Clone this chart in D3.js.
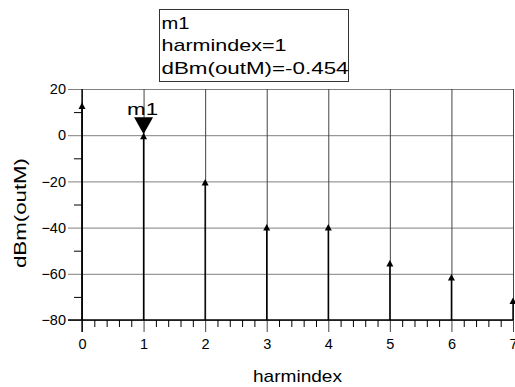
<!DOCTYPE html>
<html>
<head>
<meta charset="utf-8">
<script src="https://cdn.jsdelivr.net/npm/d3@7"></script>
<style>
body { margin: 0; background: #fff; }
text { font-family: Arial, "Liberation Sans", sans-serif; fill: #000; }
</style>
</head>
<body>
<script>
// data
var harmindex = [0, 1, 2, 3, 4, 5, 6, 7];
var dBmOut = [12.6, -0.454, -20.5, -40, -40, -55.5, -61.6, -71.8];
var xTicks = [0, 1, 2, 3, 4, 5, 6, 7];
var yTicks = [-80, -60, -40, -20, 0, 20];
var yMinor = [-70, -50, -30, -10, 10];
var markerName = "m1";
var markerIndex = 1;
var markerLines = ["m1", "harmindex=1", "dBm(outM)=-0.454"];
var markerLineLen = [28, 125, 187];

var W = 515, H = 387;
var pLeft = 82, pRight = 513, pTop = 89, pBottom = 320;
var fontFam = "Arial, 'Liberation Sans', sans-serif";

var svg = d3.select("body").append("svg")
    .attr("width", W).attr("height", H);

var x = d3.scaleLinear().domain([0, 7]).range([pLeft, pRight]);
var y = d3.scaleLinear().domain([-80, 20]).range([pBottom, pTop]);

// horizontal grid + major y ticks (one axis drawn from the right edge)
var gy = svg.append("g")
    .attr("transform", "translate(" + pRight + ",0)")
    .call(d3.axisLeft(y).tickValues(yTicks).tickFormat(d3.format("d"))
        .tickSize(pRight - 68).tickSizeOuter(0).tickPadding(2));
gy.select(".domain").remove();
gy.selectAll("line").attr("stroke", "#808080");
gy.selectAll("text").style("font-size", "14.5px").style("font-family", fontFam).attr("fill", "#000");

// vertical grid + major x ticks
var gx = svg.append("g")
    .attr("transform", "translate(0," + pTop + ")")
    .call(d3.axisBottom(x).tickValues(xTicks).tickFormat(d3.format("d"))
        .tickSize(332 - pTop).tickSizeOuter(0).tickPadding(7));
gx.select(".domain").remove();
gx.selectAll("line").attr("stroke", "#444");
gx.selectAll("text").style("font-size", "14.5px").style("font-family", fontFam).attr("fill", "#000");

// minor ticks
var my = svg.append("g")
    .attr("transform", "translate(" + pLeft + ",0)")
    .call(d3.axisLeft(y).tickValues(yMinor).tickSize(8).tickFormat(""));
my.select(".domain").remove();
my.selectAll("line").attr("stroke", "#000");

var xMinor = d3.range(0, 7.001, 0.2).filter(function(v) { return Math.abs(v - Math.round(v)) > 0.01; });
var mx = svg.append("g")
    .attr("transform", "translate(0," + pBottom + ")")
    .call(d3.axisBottom(x).tickValues(xMinor).tickSize(7).tickFormat(""));
mx.select(".domain").remove();
mx.selectAll("line").attr("stroke", "#000");

// black axis lines
svg.append("line")
    .attr("x1", x(0)).attr("x2", x(0)).attr("y1", y(20)).attr("y2", 332)
    .attr("stroke", "#000").attr("stroke-width", 1.3);
svg.append("line")
    .attr("x1", 68).attr("x2", x(7)).attr("y1", y(-80)).attr("y2", y(-80))
    .attr("stroke", "#000").attr("stroke-width", 1.3);

// stems
svg.selectAll(".stem").data(harmindex).enter().append("line")
    .attr("class", "stem")
    .attr("x1", function(d) { return x(d); })
    .attr("x2", function(d) { return x(d); })
    .attr("y1", y(-80))
    .attr("y2", function(d, i) { return y(dBmOut[i]); })
    .attr("stroke", "#000").attr("stroke-width", 1.4);

// small up triangles
svg.selectAll(".pt").data(harmindex).enter().append("path")
    .attr("class", "pt")
    .attr("d", function(d, i) {
        var px = x(d), py = y(dBmOut[i]);
        return "M" + px + "," + (py - 3.5) + "L" + (px + 3.5) + "," + (py + 3) + "L" + (px - 3.5) + "," + (py + 3) + "Z";
    })
    .attr("fill", "#000");

// marker m1
var mpx = x(markerIndex), mpy = y(dBmOut[markerIndex]);
svg.append("path")
    .attr("d", "M" + (mpx - 9.5) + "," + (mpy - 19) + "L" + (mpx + 9.5) + "," + (mpy - 19) + "L" + mpx + "," + (mpy - 2) + "Z")
    .attr("fill", "#000");
svg.append("text")
    .attr("x", mpx - 16.5).attr("y", mpy - 21)
    .attr("textLength", 31).attr("lengthAdjust", "spacingAndGlyphs")
    .style("font-size", "17px")
    .text(markerName);

// marker readout box
svg.append("rect")
    .attr("x", 159.5).attr("y", 9.5).attr("width", 189).attr("height", 72)
    .attr("fill", "#fff").attr("stroke", "#333").attr("stroke-width", 1);
svg.selectAll(".mlab").data(markerLines).enter().append("text")
    .attr("class", "mlab")
    .attr("x", 161.5)
    .attr("y", function(d, i) { return 28.5 + i * 22.8; })
    .attr("textLength", function(d, i) { return markerLineLen[i]; })
    .attr("lengthAdjust", "spacingAndGlyphs")
    .style("font-size", "17px")
    .text(function(d) { return d; });

// axis titles
svg.append("text")
    .attr("x", 253).attr("y", 382)
    .attr("textLength", 89).attr("lengthAdjust", "spacingAndGlyphs")
    .style("font-size", "17px")
    .text("harmindex");
svg.append("text")
    .attr("transform", "translate(25.5,268) rotate(-90)")
    .attr("textLength", 110).attr("lengthAdjust", "spacingAndGlyphs")
    .style("font-size", "16px")
    .text("dBm(outM)");
</script>
</body>
</html>
